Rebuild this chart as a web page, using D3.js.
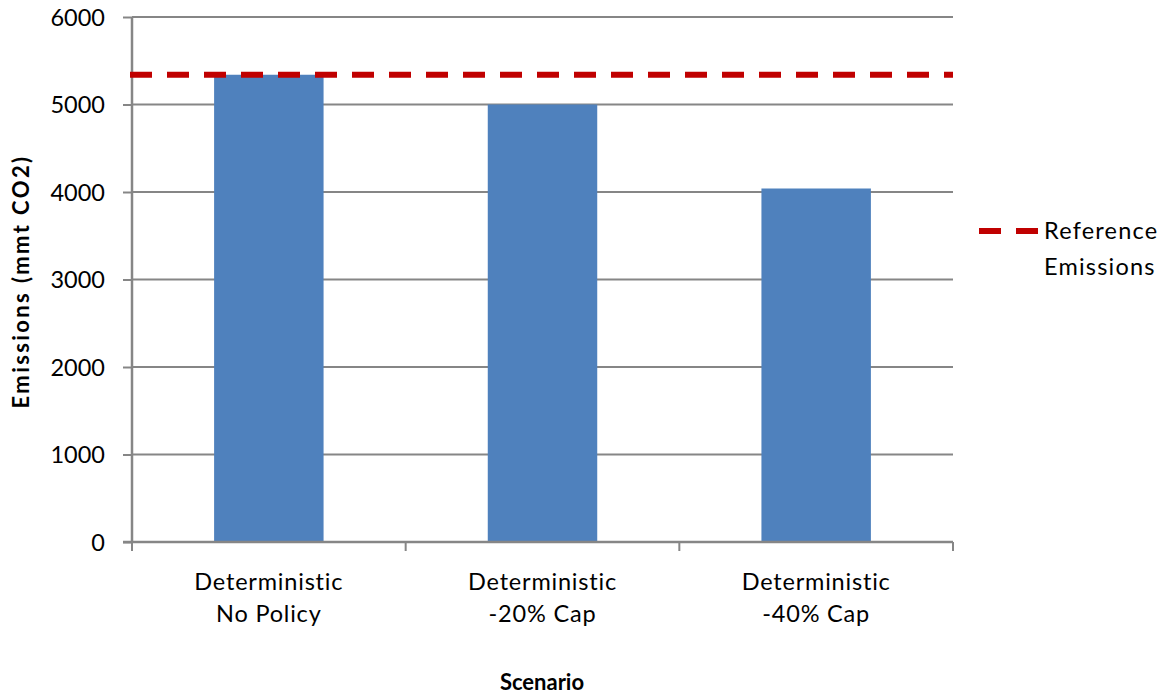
<!DOCTYPE html>
<html><head><meta charset="utf-8">
<script src="https://cdn.jsdelivr.net/npm/d3@7"></script>
<style>body{margin:0;background:#fff;} text{font-family:Lato,"Open Sans",sans-serif;fill:#000;}</style>
</head><body>
<svg id="c" width="1173" height="696"></svg>
<script>
const categories = [["Deterministic","No Policy"],["Deterministic","-20% Cap"],["Deterministic","-40% Cap"]];
const emissions = [5340, 5000, 4040];
const referenceEmissions = 5340;
const yTicks = [0,1000,2000,3000,4000,5000,6000];

const svg = d3.select("#c");
const L=132, R=953, T=17, B=542;
const x = d3.scaleBand().domain(d3.range(categories.length)).range([L,R]).paddingInner(0.6).paddingOuter(0.3);
const xb = d3.scaleBand().domain(d3.range(categories.length)).range([L,R]);
const y = d3.scaleLinear().domain([0,6000]).range([B,T]);

// gridlines
svg.append("g").selectAll("line").data(yTicks.filter(d=>d>0)).join("line")
  .attr("x1",L).attr("x2",R).attr("y1",d=>y(d)).attr("y2",d=>y(d))
  .attr("stroke","#868686").attr("stroke-width",2);

// bars
svg.append("g").selectAll("rect").data(emissions).join("rect")
  .attr("x",(d,i)=>x(i)).attr("width",x.bandwidth())
  .attr("y",d=>y(d)).attr("height",d=>y(0)-y(d)).attr("fill","#4F81BD");

// y axis
const ya = svg.append("g").attr("transform",`translate(${L},0)`)
  .call(d3.axisLeft(y).tickValues(yTicks).tickFormat(d3.format("d")).tickSize(9).tickPadding(18));
ya.select(".domain").attr("stroke","#868686").attr("stroke-width",2.5).attr("d",`M0,${T}V${B}`);
ya.selectAll(".tick line").attr("stroke","#868686").attr("stroke-width",2);
ya.selectAll(".tick text").style("font-size","23.5px").style("font-family","Lato").attr("dy","0.36em");

// x axis
const xa = svg.append("g").attr("transform",`translate(0,${B})`);
xa.append("line").attr("x1",L-9).attr("x2",R).attr("stroke","#868686").attr("stroke-width",2.5);
xa.selectAll("line.tk").data(d3.range(categories.length+1)).join("line").attr("class","tk")
  .attr("x1",i=>i<categories.length?xb(i):R).attr("x2",i=>i<categories.length?xb(i):R)
  .attr("y1",0).attr("y2",9).attr("stroke","#868686").attr("stroke-width",2);
categories.forEach((c,i)=>{
  c.forEach((s,j)=>{
    xa.append("text").attr("x",xb(i)+xb.bandwidth()/2).attr("y",48+j*32)
      .attr("text-anchor","middle").style("font-size","23.5px").style("letter-spacing","0.8px").text(s);
  });
});

// reference line
svg.append("line").attr("x1",L-2).attr("x2",R).attr("y1",y(referenceEmissions)).attr("y2",y(referenceEmissions))
  .attr("stroke","#C00000").attr("stroke-width",6).attr("stroke-dasharray","22,15");

// legend
svg.append("line").attr("x1",979).attr("x2",1039).attr("y1",231).attr("y2",231)
  .attr("stroke","#C00000").attr("stroke-width",6).attr("stroke-dasharray","22,15");
svg.append("text").attr("x",1044).attr("y",239).style("font-size","23.5px").style("letter-spacing","1.2px").text("Reference");
svg.append("text").attr("x",1044).attr("y",275).style("font-size","23.5px").style("letter-spacing","1.2px").text("Emissions");

// titles
svg.append("text").attr("transform",`translate(29,${(T+B)/2+2}) rotate(-90)`).attr("text-anchor","middle")
  .style("font-size","22px").style("font-weight","bold").style("letter-spacing","2.4px").text("Emissions (mmt CO2)");
svg.append("text").attr("x",542).attr("y",690).attr("text-anchor","middle")
  .style("font-size","22px").style("font-weight","bold").text("Scenario");
</script>
</body></html>
